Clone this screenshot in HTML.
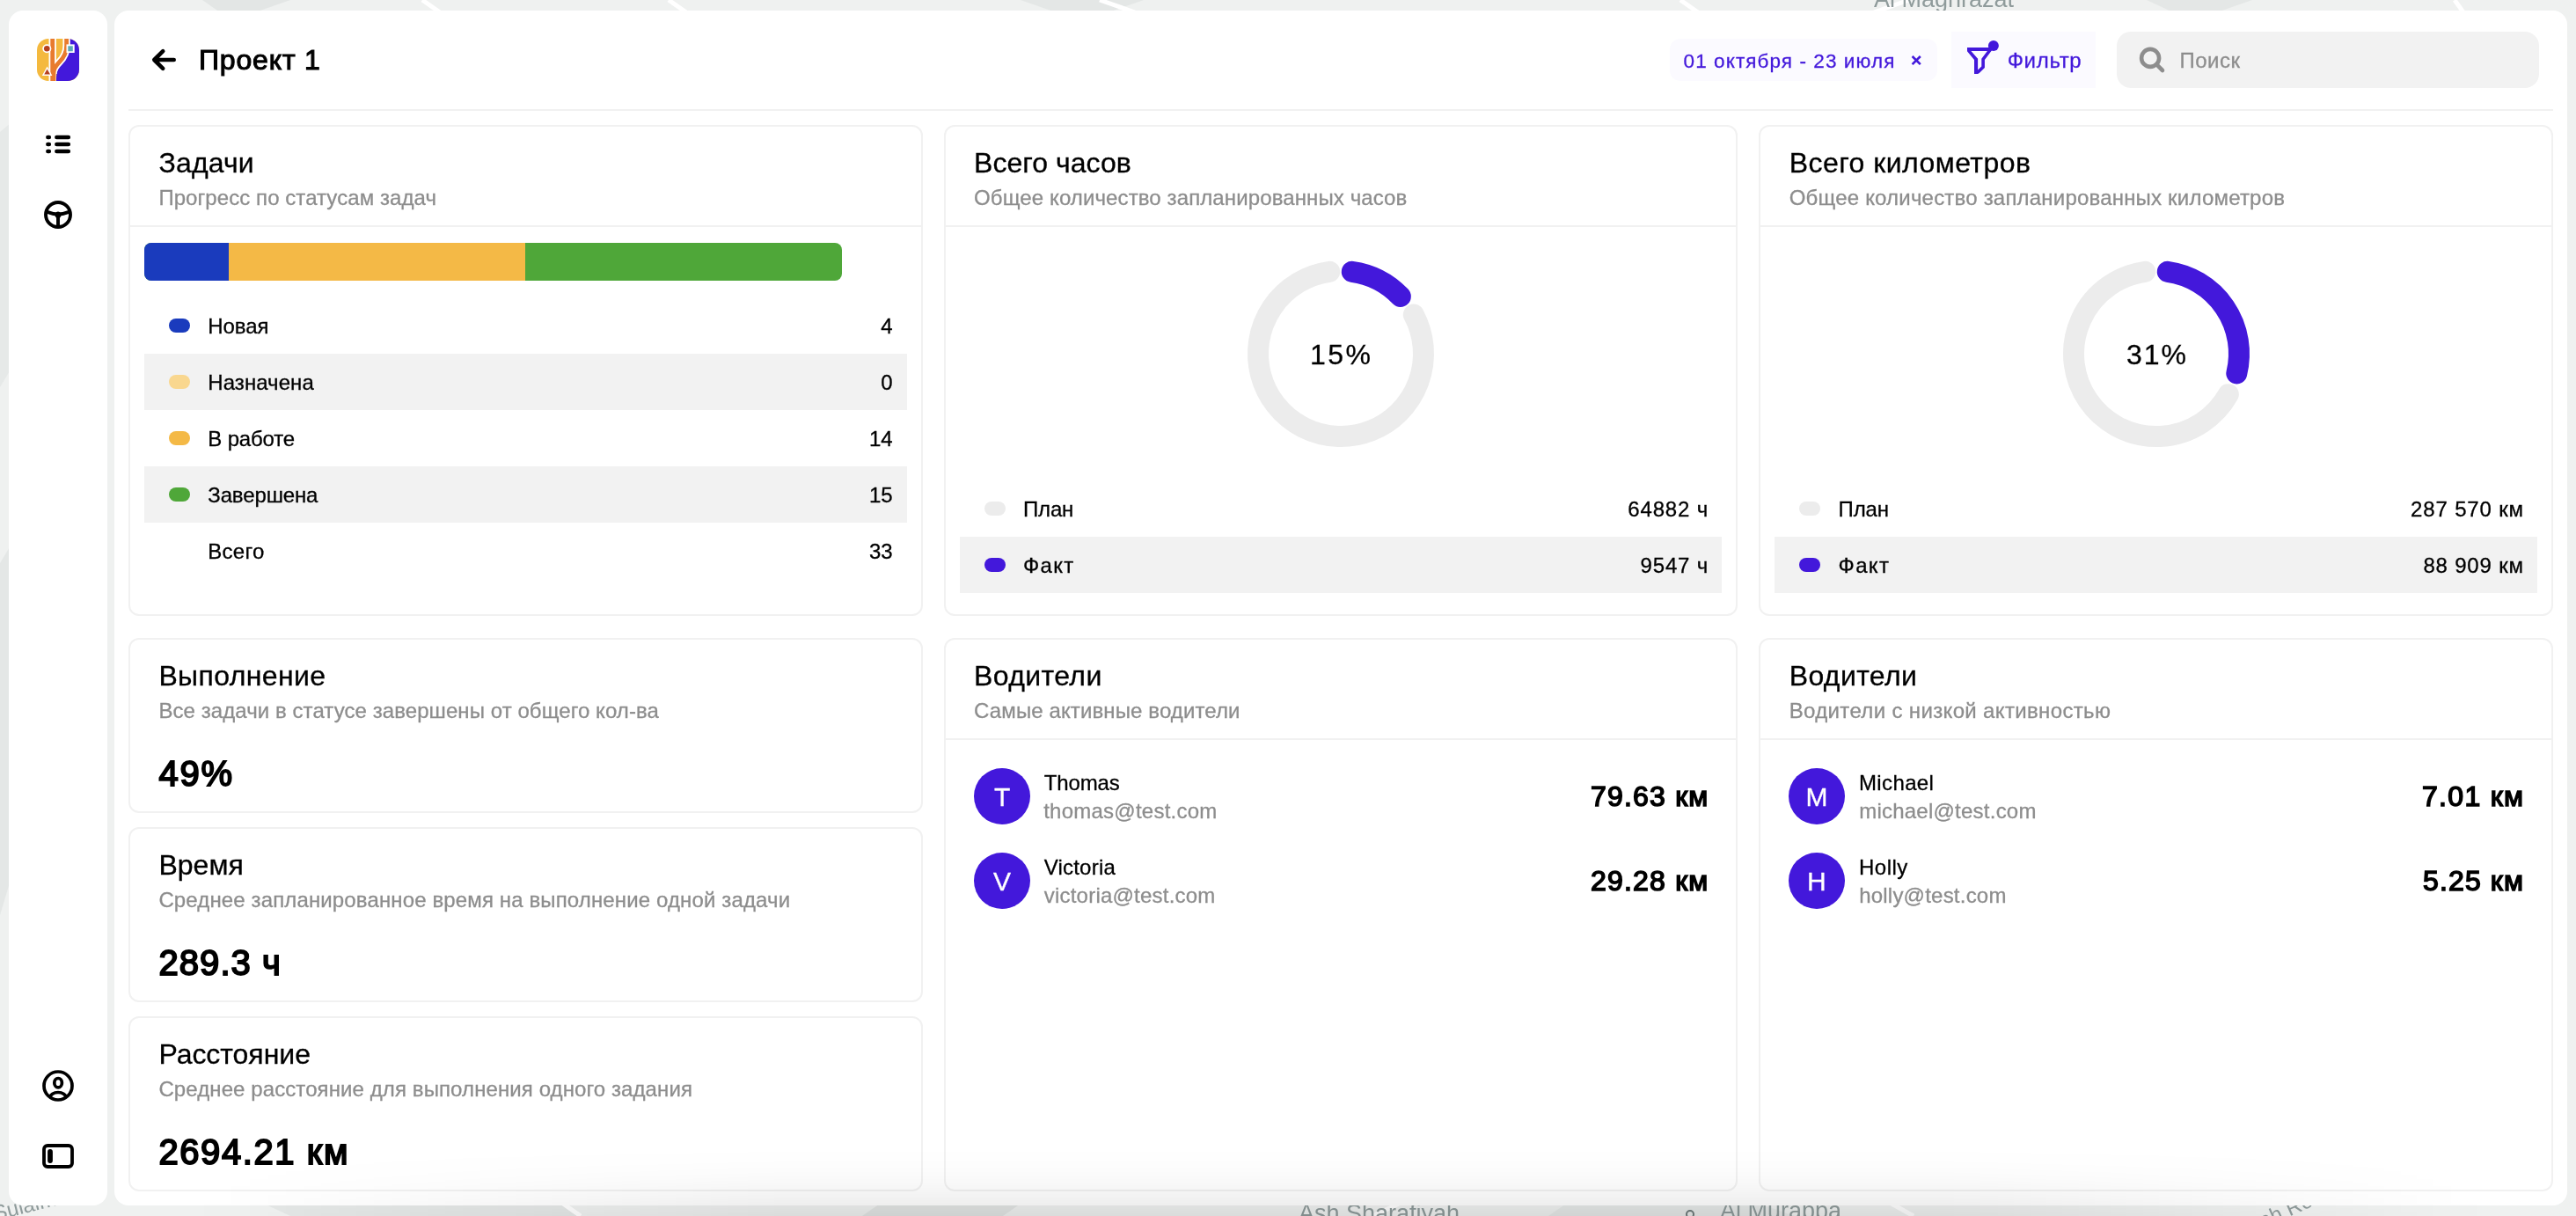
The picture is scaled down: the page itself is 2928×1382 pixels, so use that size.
<!DOCTYPE html>
<html lang="ru">
<head>
<meta charset="utf-8">
<title>Проект 1</title>
<style>
html,body{margin:0;padding:0;width:2928px;height:1382px;overflow:hidden;background:#eef0ef;}
body{font-family:"Liberation Sans",sans-serif;color:#000;}
#root{position:relative;width:2928px;height:1382px;overflow:hidden;background:#eef0ef;}
.abs{position:absolute;}
.t{position:absolute;white-space:pre;line-height:1;-webkit-text-stroke:0.3px;}
.tx{position:absolute;left:0;top:0;width:2928px;height:1382px;will-change:transform;}
.map{position:absolute;left:0;top:0;width:2928px;height:1382px;will-change:transform;}
.side{position:absolute;left:10px;top:12px;width:112px;height:1358px;background:#fff;border-radius:16px;}
.panel{position:absolute;left:130px;top:12px;width:2788px;height:1358px;background:#fff;border-radius:16px;}
.hr{position:absolute;left:146px;top:124px;width:2756px;height:2px;background:#f1f1f1;}
.card{position:absolute;box-sizing:border-box;border:2px solid #f1f1f1;border-radius:12px;background:#fff;}
.chd{position:absolute;height:2px;background:#f1f1f1;}
.row{position:absolute;height:64px;background:#f2f2f2;}
.dot{position:absolute;width:24px;height:16px;border-radius:8px;}
.av{position:absolute;width:64px;height:64px;border-radius:50%;background:#4318DB;}
.chip{position:absolute;left:1898px;top:44px;width:304px;height:48px;border-radius:12px;background:#fbfaff;}
.fbtn{position:absolute;left:2218px;top:36px;width:164px;height:64px;background:#fbfaff;}
.search{position:absolute;left:2406px;top:36px;width:480px;height:64px;border-radius:16px;background:#f2f2f2;}
.fade{position:absolute;left:0;top:1368px;width:2928px;height:200px;background:linear-gradient(90deg,rgba(0,0,0,0) 8%,rgba(0,0,0,.125) 30%,rgba(0,0,0,.125) 76%,rgba(0,0,0,0) 96%);filter:blur(30px);pointer-events:none;}
</style>
</head>
<body>
<div id="root">
<!-- map background -->
<svg class="map" viewBox="0 0 2928 1382">
  <rect width="2928" height="1382" fill="#eff1f0"/>
  <polygon points="230,0 330,0 290,14 250,14" fill="#e3e6e5"/>
  <polygon points="1160,0 1300,0 1260,14 1200,14" fill="#e4e7e6"/>
  <polygon points="2440,0 2560,0 2520,14 2470,14" fill="#e4e7e6"/>
  <polygon points="0,150 12,140 12,420 0,440" fill="#e6e9e8"/>
  <polygon points="0,640 12,620 12,1000 0,1040" fill="#e4e7e6"/>
  <polygon points="300,1368 640,1368 660,1382 330,1382" fill="#e4e7e6"/>
  <polygon points="1000,1368 1160,1368 1140,1382 980,1382" fill="#e2e5e4"/>
  <polygon points="1780,1368 2000,1368 2040,1382 1760,1382" fill="#e6e9e8"/>
  <g stroke="#fff" stroke-width="5" fill="none">
    <path d="M480 0L500 14M760 0L780 14M1250 0L1290 14M1910 0L1930 14M2170 0L2130 14M2790 0L2800 14"/>
    <path d="M640 1368L660 1382M1590 1368L1560 1382M2150 1368L2175 1382"/>
  </g>
  <g font-family="Liberation Sans, sans-serif" fill="#8f9b9b" font-size="27">
    <text x="2130" y="8">Al Maghrazat</text>
    <text x="1476" y="1388">Ash Sharafiyah</text>
    <text x="1955" y="1385">Al Murabba</text>
    <text x="-6" y="1386" transform="rotate(-14 0 1386)" font-size="24">Sulaiman</text>
    <text x="2572" y="1396" transform="rotate(-24 2572 1396)" font-size="24">ah Ro</text>
    <circle cx="1921" cy="1380" r="4" fill="none" stroke="#6f7b7b" stroke-width="2"/>
  </g>
</svg>

<div class="side"></div>
<div class="panel"></div>
<div class="hr"></div>

<!-- logo -->
<svg class="abs" style="left:42px;top:44px" width="48" height="48" viewBox="0 0 48 48">
  <defs><clipPath id="lc"><rect width="48" height="48" rx="13" ry="13"/></clipPath></defs>
  <g clip-path="url(#lc)">
    <rect width="48" height="48" fill="#F4B93E"/>
    <!-- purple region -->
    <path d="M37 0 L37 7 C37 17 33 23 28.6 27.6 C24.5 32 22 36 22 48 L48 48 L48 0 Z" fill="#4318DB"/>
    <!-- orange branch with white outline -->
    <path d="M33.6 -1 L33.6 8 C33.6 17 30 22 25.5 26.5 C21.5 30.5 18.5 34 18.5 40" fill="none" stroke="#fff" stroke-width="8.4"/>
    <path d="M17.7 -1 V49" fill="none" stroke="#fff" stroke-width="8.4"/>
    <path d="M33.6 -1 L33.6 8 C33.6 17 30 22 25.5 26.5 C21.5 30.5 18.5 34 18.5 40" fill="none" stroke="#E87B2E" stroke-width="4.8"/>
    <path d="M17.7 -1 V49" fill="none" stroke="#E87B2E" stroke-width="4.8"/>
    <path d="M19.2 30 V49" fill="none" stroke="#E87B2E" stroke-width="4.4"/>
    <!-- markers -->
    <circle cx="11.3" cy="11.3" r="5" fill="#fff"/>
    <circle cx="11.3" cy="11.3" r="3.3" fill="#B5401E"/>
    <rect x="33.5" y="6.4" width="9.2" height="9.6" fill="#fff"/>
    <rect x="35.3" y="8.3" width="5.5" height="6" fill="#5BA9B8"/>
    <polygon points="11.6,31.6 17.4,42 5.8,42" fill="#fff"/>
    <polygon points="11.6,34.6 15,40.6 8.2,40.6" fill="#B5401E"/>
  </g>
</svg>

<!-- sidebar icons -->
<svg class="abs" style="left:42px;top:140px" width="48" height="48" viewBox="42 140 48 48">
  <g stroke="#000" stroke-width="4.6" stroke-linecap="round" fill="none">
    <path d="M64.4 156H77.8M64.4 164H77.8M64.4 172H77.8"/>
    <path d="M54.4 156H55.8M54.4 164H55.8M54.4 172H55.8"/>
  </g>
</svg>
<svg class="abs" style="left:42px;top:220px" width="48" height="48" viewBox="42 220 48 48">
  <circle cx="66" cy="244" r="14" fill="none" stroke="#000" stroke-width="3.9"/>
  <path d="M52.8 240.6 Q60 243.4 66 243.4 Q72 243.4 79.2 240.6" fill="none" stroke="#000" stroke-width="3.9"/>
  <path d="M66 243V258" fill="none" stroke="#000" stroke-width="3.9"/>
  <circle cx="66" cy="243.4" r="2.8" fill="#000"/>
  <polygon points="62,244.8 70,244.8 67.9,247.8 64.1,247.8" fill="#000"/>
</svg>
<svg class="abs" style="left:42px;top:1210px" width="48" height="48" viewBox="42 1210 48 48">
  <defs><clipPath id="uc"><circle cx="66" cy="1234" r="16"/></clipPath></defs>
  <circle cx="66" cy="1234" r="16" fill="none" stroke="#000" stroke-width="3.7"/>
  <ellipse cx="66.1" cy="1230.7" rx="4.3" ry="5.2" fill="none" stroke="#000" stroke-width="3.7"/>
  <ellipse cx="66" cy="1247.3" rx="9" ry="5.8" fill="none" stroke="#000" stroke-width="3.7" clip-path="url(#uc)"/>
</svg>
<svg class="abs" style="left:42px;top:1290px" width="48" height="48" viewBox="42 1290 48 48">
  <rect x="50" y="1302" width="32" height="24" rx="4" ry="4" fill="none" stroke="#000" stroke-width="3.8"/>
  <path d="M57 1309V1319" stroke="#000" stroke-width="5.8" stroke-linecap="round"/>
</svg>

<!-- header -->
<svg class="abs" style="left:162px;top:44px" width="48" height="48" viewBox="162 44 48 48">
  <path d="M197.7 68H175.3M185.2 58.2L175.3 68L185.2 77.8" fill="none" stroke="#000" stroke-width="4.6" stroke-linecap="round" stroke-linejoin="round"/>
</svg>
<div class="chip"></div>
<svg class="abs" style="left:2166px;top:56px" width="24" height="24" viewBox="2166 56 24 24">
  <path d="M2173.6 64L2182.8 73.2M2182.8 64L2173.6 73.2" stroke="#4318DB" stroke-width="2.6" fill="none"/>
</svg>
<div class="fbtn"></div>
<svg class="abs" style="left:2226px;top:40px" width="56" height="56" viewBox="2226 40 56 56">
  <path fill-rule="evenodd" fill="#4318DB" d="M2236 54.1H2266.4L2255.9 68.1V77L2249.8 83.1L2248 84H2244V68.1L2236 58.3Z M2240.4 58H2258.9L2252.3 66.8V75.4L2248.1 79.6V66.8Z"/>
  <circle cx="2265.9" cy="52" r="6" fill="#4318DB"/>
</svg>
<div class="search"></div>
<svg class="abs" style="left:2424px;top:44px" width="48" height="48" viewBox="2424 44 48 48">
  <circle cx="2444.1" cy="65.9" r="10" fill="none" stroke="#8d8d8d" stroke-width="4.6"/>
  <path d="M2451.4 73.4L2458 80" stroke="#8d8d8d" stroke-width="4.6" stroke-linecap="round"/>
</svg>

<!-- cards row 1 -->
<div class="card" style="left:146px;top:142px;width:902.67px;height:558px"></div>
<div class="card" style="left:1072.67px;top:142px;width:902.67px;height:558px"></div>
<div class="card" style="left:1999.33px;top:142px;width:902.67px;height:558px"></div>
<div class="chd" style="left:148px;top:256px;width:898.67px"></div>
<div class="chd" style="left:1074.67px;top:256px;width:898.67px"></div>
<div class="chd" style="left:2001.33px;top:256px;width:898.67px"></div>

<!-- card 1 : progress bar + rows -->
<div class="abs" style="left:164px;top:276px;width:793px;height:43px;border-radius:8px;overflow:hidden;background:#4FA739">
  <div class="abs" style="left:0;top:0;width:96px;height:43px;background:#1A3BBD"></div>
  <div class="abs" style="left:96px;top:0;width:337px;height:43px;background:#F4B946"></div>
</div>
<div class="row" style="left:164px;top:402px;width:867px"></div>
<div class="row" style="left:164px;top:530px;width:867px"></div>
<div class="dot" style="left:192px;top:362px;background:#1A3BBD"></div>
<div class="dot" style="left:192px;top:426px;background:#F9D78F"></div>
<div class="dot" style="left:192px;top:490px;background:#F4B946"></div>
<div class="dot" style="left:192px;top:554px;background:#4FA739"></div>

<!-- card 2/3 rows -->
<div class="row" style="left:1091px;top:610px;width:866px"></div>
<div class="row" style="left:2017px;top:610px;width:867px"></div>
<div class="dot" style="left:1119px;top:570px;background:#ececec"></div>
<div class="dot" style="left:1119px;top:634px;background:#4318DB"></div>
<div class="dot" style="left:2045px;top:570px;background:#ececec"></div>
<div class="dot" style="left:2045px;top:634px;background:#4318DB"></div>

<!-- donuts -->
<svg class="abs" style="left:0;top:280px" width="2928" height="250" viewBox="0 280 2928 250">
<path d="M1606.85 357.60A94 94 0 1 1 1511.22 308.87" fill="none" stroke="#ececec" stroke-width="24" stroke-linecap="round"/><path d="M1536.78 308.87A94 94 0 0 1 1591.83 336.92" fill="none" stroke="#4318DB" stroke-width="24" stroke-linecap="round"/><path d="M2532.88 448.17A94 94 0 1 1 2438.22 308.87" fill="none" stroke="#ececec" stroke-width="24" stroke-linecap="round"/><path d="M2463.78 308.87A94 94 0 0 1 2542.29 424.40" fill="none" stroke="#4318DB" stroke-width="24" stroke-linecap="round"/>
</svg>

<!-- cards row 2 -->
<div class="card" style="left:146px;top:725px;width:902.67px;height:199px"></div>
<div class="card" style="left:146px;top:940px;width:902.67px;height:199px"></div>
<div class="card" style="left:146px;top:1155px;width:902.67px;height:199px"></div>
<div class="card" style="left:1072.67px;top:725px;width:902.67px;height:629px"></div>
<div class="card" style="left:1999.33px;top:725px;width:902.67px;height:629px"></div>
<div class="chd" style="left:1074.67px;top:839px;width:898.67px"></div>
<div class="chd" style="left:2001.33px;top:839px;width:898.67px"></div>

<!-- avatars -->
<div class="av" style="left:1107px;top:873px"></div>
<div class="av" style="left:1107px;top:969px"></div>
<div class="av" style="left:2033px;top:873px"></div>
<div class="av" style="left:2033px;top:969px"></div>

<div class="tx">
<div class="t" style="left:226.0px;top:52px;font-size:32px;-webkit-text-stroke:1.09px;letter-spacing:0.829px;">Проект 1</div>
<div class="t" style="left:1913.6px;top:59px;font-size:22.5px;color:#4318DB;letter-spacing:1.079px;">01 октября - 23 июля</div>
<div class="t" style="left:2281.7px;top:57px;font-size:24px;color:#4318DB;letter-spacing:0.680px;">Фильтр</div>
<div class="t" style="left:2477.4px;top:57px;font-size:24px;color:#8d8d8d;letter-spacing:0.500px;">Поиск</div>
<div class="t" style="left:180.4px;top:169px;font-size:32px;letter-spacing:0.180px;">Задачи</div>
<div class="t" style="left:180.4px;top:213px;font-size:24px;color:#8d8d8d;letter-spacing:0.068px;">Прогресс по статусам задач</div>
<div class="t" style="left:236.3px;top:359px;font-size:24px;letter-spacing:-0.100px;">Новая</div>
<div class="t" style="left:1001.3px;top:359px;font-size:24px;">4</div>
<div class="t" style="left:236.3px;top:423px;font-size:24px;letter-spacing:0.062px;">Назначена</div>
<div class="t" style="left:1001.3px;top:423px;font-size:24px;">0</div>
<div class="t" style="left:236.3px;top:487px;font-size:24px;letter-spacing:-0.171px;">В работе</div>
<div class="t" style="left:988.0px;top:487px;font-size:24px;">14</div>
<div class="t" style="left:236.3px;top:551px;font-size:24px;letter-spacing:-0.138px;">Завершена</div>
<div class="t" style="left:988.0px;top:551px;font-size:24px;">15</div>
<div class="t" style="left:236.3px;top:615px;font-size:24px;letter-spacing:0.275px;">Всего</div>
<div class="t" style="left:988.0px;top:615px;font-size:24px;">33</div>
<div class="t" style="left:1107.1px;top:169px;font-size:32px;letter-spacing:0.020px;">Всего часов</div>
<div class="t" style="left:1107.1px;top:213px;font-size:24px;color:#8d8d8d;letter-spacing:0.111px;">Общее количество запланированных часов</div>
<div class="t" style="left:1489.0px;top:387px;font-size:32px;letter-spacing:2.500px;">15%</div>
<div class="t" style="left:1163.0px;top:567px;font-size:24px;letter-spacing:-0.167px;">План</div>
<div class="t" style="left:1163.0px;top:631px;font-size:24px;letter-spacing:1.300px;">Факт</div>
<div class="t" style="left:1850.2px;top:567px;font-size:24px;letter-spacing:0.875px;">64882 ч</div>
<div class="t" style="left:1864.5px;top:631px;font-size:24px;letter-spacing:0.850px;">9547 ч</div>
<div class="t" style="left:2033.7px;top:169px;font-size:32px;letter-spacing:0.453px;">Всего километров</div>
<div class="t" style="left:2033.7px;top:213px;font-size:24px;color:#8d8d8d;letter-spacing:0.198px;">Общее количество запланированных километров</div>
<div class="t" style="left:2417.0px;top:387px;font-size:32px;letter-spacing:2.000px;">31%</div>
<div class="t" style="left:2089.6px;top:567px;font-size:24px;letter-spacing:-0.133px;">План</div>
<div class="t" style="left:2089.6px;top:631px;font-size:24px;letter-spacing:1.333px;">Факт</div>
<div class="t" style="left:2740.1px;top:567px;font-size:24px;letter-spacing:0.833px;">287 570 км</div>
<div class="t" style="left:2754.4px;top:631px;font-size:24px;letter-spacing:0.812px;">88 909 км</div>
<div class="t" style="left:180.4px;top:752px;font-size:32px;letter-spacing:0.389px;">Выполнение</div>
<div class="t" style="left:180.4px;top:796px;font-size:24px;color:#8d8d8d;letter-spacing:0.074px;">Все задачи в статусе завершены от общего кол-ва</div>
<div class="t" style="left:180.4px;top:859px;font-size:40px;-webkit-text-stroke:1.92px;letter-spacing:1.800px;">49%</div>
<div class="t" style="left:180.4px;top:967px;font-size:32px;letter-spacing:0.025px;">Время</div>
<div class="t" style="left:180.4px;top:1011px;font-size:24px;color:#8d8d8d;letter-spacing:0.131px;">Среднее запланированное время на выполнение одной задачи</div>
<div class="t" style="left:180.4px;top:1074px;font-size:40px;-webkit-text-stroke:1.92px;letter-spacing:1.083px;">289.3 ч</div>
<div class="t" style="left:180.4px;top:1182px;font-size:32px;letter-spacing:-0.033px;">Расстояние</div>
<div class="t" style="left:180.4px;top:1226px;font-size:24px;color:#8d8d8d;letter-spacing:0.096px;">Среднее расстояние для выполнения одного задания</div>
<div class="t" style="left:180.4px;top:1289px;font-size:40px;-webkit-text-stroke:1.92px;letter-spacing:1.589px;">2694.21 км</div>
<div class="t" style="left:1107.1px;top:752px;font-size:32px;letter-spacing:0.371px;">Водители</div>
<div class="t" style="left:1107.1px;top:796px;font-size:24px;color:#8d8d8d;letter-spacing:0.114px;">Самые активные водители</div>
<div class="t" style="left:1186.7px;top:878px;font-size:24px;letter-spacing:-0.120px;">Thomas</div>
<div class="t" style="left:1186.2px;top:910px;font-size:24px;color:#8d8d8d;letter-spacing:0.236px;">thomas@test.com</div>
<div class="t" style="left:1186.7px;top:974px;font-size:24px;letter-spacing:0.214px;">Victoria</div>
<div class="t" style="left:1186.7px;top:1006px;font-size:24px;color:#8d8d8d;letter-spacing:0.225px;">victoria@test.com</div>
<div class="t" style="left:1807.9px;top:889px;font-size:32px;-webkit-text-stroke:1.54px;letter-spacing:1.214px;">79.63 км</div>
<div class="t" style="left:1807.9px;top:985px;font-size:32px;-webkit-text-stroke:1.54px;letter-spacing:1.214px;">29.28 км</div>
<div class="t" style="left:1130.0px;top:891px;font-size:30px;color:#fff;">T</div>
<div class="t" style="left:1129.0px;top:987px;font-size:30px;color:#fff;">V</div>
<div class="t" style="left:2033.7px;top:752px;font-size:32px;letter-spacing:0.371px;">Водители</div>
<div class="t" style="left:2033.7px;top:796px;font-size:24px;color:#8d8d8d;letter-spacing:0.350px;">Водители с низкой активностью</div>
<div class="t" style="left:2113.0px;top:878px;font-size:24px;letter-spacing:0.367px;">Michael</div>
<div class="t" style="left:2113.2px;top:910px;font-size:24px;color:#8d8d8d;letter-spacing:0.233px;">michael@test.com</div>
<div class="t" style="left:2113.0px;top:974px;font-size:24px;letter-spacing:0.475px;">Holly</div>
<div class="t" style="left:2113.2px;top:1006px;font-size:24px;color:#8d8d8d;letter-spacing:0.215px;">holly@test.com</div>
<div class="t" style="left:2753.0px;top:889px;font-size:32px;-webkit-text-stroke:1.54px;letter-spacing:1.300px;">7.01 км</div>
<div class="t" style="left:2754.0px;top:985px;font-size:32px;-webkit-text-stroke:1.54px;letter-spacing:1.133px;">5.25 км</div>
<div class="t" style="left:2052.5px;top:891px;font-size:30px;color:#fff;">M</div>
<div class="t" style="left:2054.0px;top:987px;font-size:30px;color:#fff;">H</div>
</div>

<div class="fade"></div>
</div>
</body>
</html>
